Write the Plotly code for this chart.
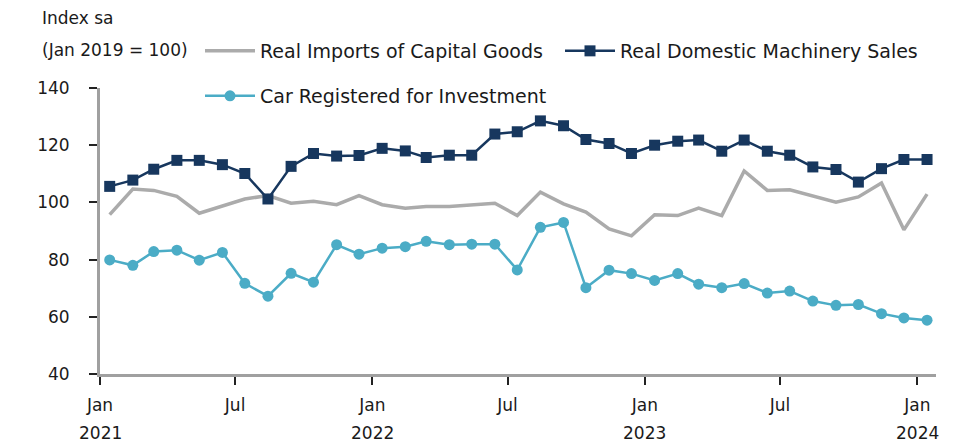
import plotly.graph_objects as go
import pandas as pd

months = pd.date_range("2021-01-01", "2024-01-01", freq="MS")
dates = [d + pd.Timedelta(days=13) for d in months]

imports_capital_goods = [95.7, 104.7, 104.2, 102.1, 96.2, 98.6, 101.2, 102.4, 99.7, 100.4, 99.2, 102.4,
                         99.2, 98.0, 98.6, 98.6, 99.1, 99.7, 95.4, 103.6, 99.5, 96.6, 90.7, 88.3,
                         95.7, 95.4, 98.0, 95.4, 111.0, 104.2, 104.4, 102.1, 100.1, 101.9, 106.8, 90.4,
                         102.9]
machinery_sales = [105.6, 107.8, 111.6, 114.7, 114.7, 113.2, 110.1, 101.2, 112.6, 117.1, 116.2, 116.4,
                   118.9, 118.0, 115.7, 116.5, 116.5, 123.9, 124.7, 128.5, 126.8, 122.0, 120.6, 117.1,
                   120.0, 121.4, 121.8, 117.9, 121.8, 117.9, 116.5, 112.4, 111.5, 107.1, 111.8, 115.0,
                   115.0]
car_registered = [79.9, 78.0, 82.8, 83.3, 79.8, 82.5, 71.7, 67.2, 75.2, 72.1, 85.2, 81.9,
                  84.0, 84.5, 86.4, 85.2, 85.4, 85.4, 76.4, 91.3, 93.0, 70.2, 76.3, 75.1,
                  72.7, 75.1, 71.4, 70.2, 71.6, 68.3, 69.0, 65.5, 64.0, 64.3, 61.1, 59.6,
                  58.8]

tick_dates = ["2021-01-01", "2021-07-01", "2022-01-01", "2022-07-01", "2023-01-01", "2023-07-01", "2024-01-01"]
tick_months = ["Jan", "Jul", "Jan", "Jul", "Jan", "Jul", "Jan"]
year_dates = ["2021-01-01", "2022-01-01", "2023-01-01", "2024-01-01"]
year_labels = ["2021", "2022", "2023", "2024"]

FONT = "DejaVu Sans"
TXT = "#1a1a1a"
W, H = 945, 435
L, R, T, B = 92, 17, 80, 69
PW, PH = W - L - R, H - T - B


def px(xp):
    return (xp - L) / PW


def py(yp):
    return (H - B - yp) / PH


fig = go.Figure()
fig.add_trace(go.Scatter(x=dates, y=imports_capital_goods, mode="lines",
                         name="Real Imports of Capital Goods",
                         line=dict(color="#ABABAB", width=3.5), legend="legend"))
fig.add_trace(go.Scatter(x=dates, y=machinery_sales, mode="lines+markers",
                         name="Real Domestic Machinery Sales",
                         line=dict(color="#17375E", width=2.5),
                         marker=dict(symbol="square", size=11, color="#17375E"), legend="legend"))
fig.add_trace(go.Scatter(x=dates, y=car_registered, mode="lines+markers",
                         name="Car Registered for Investment",
                         line=dict(color="#4BACC6", width=2.5),
                         marker=dict(symbol="circle", size=11, color="#4BACC6"), legend="legend2"))

for d, t in zip(year_dates, year_labels):
    fig.add_annotation(x=d, y=0, xref="x", yref="paper", text=t, showarrow=False,
                       yanchor="middle", yshift=-59, font=dict(family=FONT, size=17, color=TXT))

fig.add_annotation(x=px(32), y=py(10), xref="paper", yref="paper", text="Index sa", showarrow=False,
                   xanchor="left", yanchor="middle", font=dict(family=FONT, size=17, color=TXT))
fig.add_annotation(x=px(32), y=py(42), xref="paper", yref="paper", text="(Jan 2019 = 100)",
                   showarrow=False, xanchor="left", yanchor="middle",
                   font=dict(family=FONT, size=17, color=TXT))

fig.update_layout(
    width=W, height=H,
    margin=dict(l=L, r=R, t=T, b=B, autoexpand=False),
    paper_bgcolor="white", plot_bgcolor="white",
    font=dict(family=FONT, size=17, color=TXT),
    legend=dict(orientation="h", x=px(192), xanchor="left", y=py(24), yanchor="top",
                entrywidth=295, entrywidthmode="pixels", font=dict(size=19, color=TXT),
                bgcolor="rgba(0,0,0,0)", itemwidth=50),
    legend2=dict(orientation="h", x=px(192), xanchor="left", y=py(69), yanchor="top",
                 font=dict(size=19, color=TXT), bgcolor="rgba(0,0,0,0)", itemwidth=50),
    xaxis=dict(range=["2021-01-01", "2024-01-26"], tickvals=tick_dates, ticktext=tick_months,
               showgrid=False, zeroline=False, showline=True, linecolor="#A0A0A0", linewidth=3,
               ticks="outside", ticklen=8, tickcolor="#222", tickwidth=2, ticklabelstandoff=6,
               tickfont=dict(family=FONT, size=17, color=TXT)),
    yaxis=dict(range=[40, 140], tickvals=[40, 60, 80, 100, 120, 140],
               showgrid=False, zeroline=False, showline=True, linecolor="#A0A0A0", linewidth=3,
               ticks="outside", ticklen=8, tickcolor="#222", tickwidth=2, ticklabelstandoff=16,
               tickfont=dict(family=FONT, size=17, color=TXT)),
)

fig.write_html("out.html")
